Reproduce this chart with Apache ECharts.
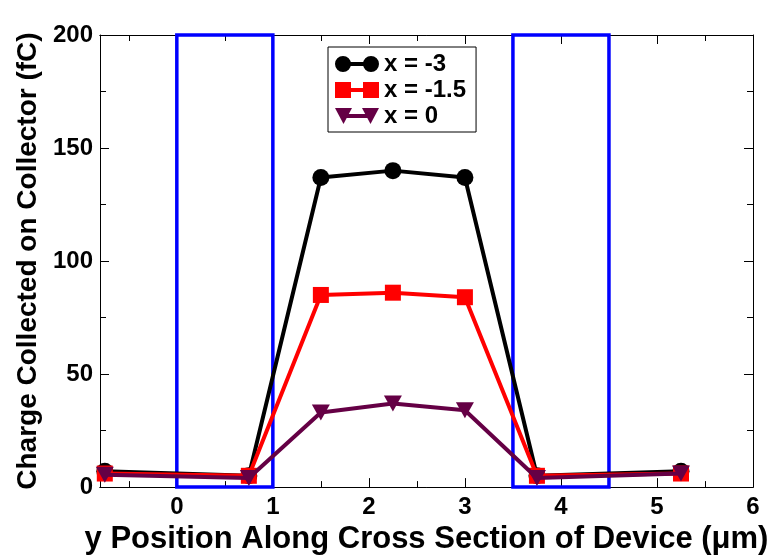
<!DOCTYPE html>
<html><head><meta charset="utf-8">
<script src="https://cdn.jsdelivr.net/npm/echarts@6/dist/echarts.min.js"></script>
<style>html,body{margin:0;padding:0;background:#fff}#c{width:777px;height:560px}</style>
</head><body><div id="c"></div>
<script>
const xPositions = [-0.75, 0.75, 1.5, 2.25, 3, 3.75, 5.25];
const seriesNames = ['x = -3', 'x = -1.5', 'x = 0'];
const chargeXm3 = [7, 5, 137, 140, 137, 5, 7];
const chargeXm15 = [6, 5, 85, 86, 84, 5, 6];
const chargeX0 = [5.5, 4, 33, 37, 34, 4, 6];
const collectorBoxes = [[0, 1], [3.5, 4.5]];
const xMajorTicks = [0, 1, 2, 3, 4, 5, 6];
const xMinorTicks = [-0.5, 0.5, 1.5, 2.5, 3.5, 4.5, 5.5];

const font = 'Liberation Sans, Arial, sans-serif';
const pair = v => xPositions.map((x, i) => [x, v[i]]);
const iconCircle = 'path://M0 8A8 8 0 1 1 16 8A8 8 0 1 1 0 8ZM28 8A8 8 0 1 1 44 8A8 8 0 1 1 28 8ZM14 6L30 6L30 10L14 10Z';
const iconSquare = 'path://M0 0H16V16H0ZM28 0H44V16H28ZM14 6H30V10H14Z';
const iconTri = 'path://M0 0H17L8.5 16ZM27 0H44L35.5 16ZM8 6H36V10H8Z';

const xBase = {type:'value', min:-0.8, max:6, splitLine:{show:false},
  axisLine:{show:true, onZero:false, lineStyle:{color:'#000', width:1}}};
const yBase = {type:'value', min:0, max:200, interval:50, splitLine:{show:false},
  axisLine:{show:true, onZero:false, lineStyle:{color:'#000', width:1}},
  axisTick:{show:true, inside:true, length:9, lineStyle:{color:'#000'}},
  minorTick:{show:true, splitNumber:2, length:6, lineStyle:{color:'#000'}}};

const option = {
  animation:false,
  backgroundColor:'#fff',
  grid:{left:100, right:24, top:35, bottom:68},
  legend:{
    orient:'vertical', left:328, top:47, padding:[5,10,4,7], itemGap:2,
    itemWidth:44, itemHeight:16, itemTextGap:8, borderColor:'#000', borderWidth:1,
    textStyle:{fontFamily:font, fontWeight:'bold', fontSize:24, color:'#000'},
    data:[
      {name:seriesNames[0], icon:iconCircle},
      {name:seriesNames[1], icon:iconSquare},
      {name:seriesNames[2], icon:iconTri}
    ]
  },
  xAxis:[
    Object.assign({}, xBase, {position:'bottom',
      name:'y Position Along Cross Section of Device (μm)', nameLocation:'middle', nameGap:33,
      nameTextStyle:{fontFamily:font, fontWeight:'bold', fontSize:31, color:'#000'},
      axisTick:{show:true, inside:true, length:9, customValues:xMajorTicks, lineStyle:{color:'#000'}},
      axisLabel:{show:true, customValues:xMajorTicks, margin:8, fontFamily:font, fontWeight:'bold', fontSize:24, color:'#000'}}),
    Object.assign({}, xBase, {position:'bottom',
      axisTick:{show:true, inside:true, length:6, customValues:xMinorTicks, lineStyle:{color:'#000'}},
      axisLabel:{show:false}}),
    Object.assign({}, xBase, {position:'top',
      axisTick:{show:true, inside:true, length:9, customValues:xMajorTicks, lineStyle:{color:'#000'}},
      axisLabel:{show:false}}),
    Object.assign({}, xBase, {position:'top',
      axisTick:{show:true, inside:true, length:6, customValues:xMinorTicks, lineStyle:{color:'#000'}},
      axisLabel:{show:false}})
  ],
  yAxis:[
    Object.assign({}, yBase, {position:'left',
      name:'Charge Collected on Collector (fC)', nameLocation:'middle', nameGap:58,
      nameTextStyle:{fontFamily:font, fontWeight:'bold', fontSize:28, color:'#000'},
      axisLabel:{show:true, margin:7, fontFamily:font, fontWeight:'bold', fontSize:24, color:'#000'}}),
    Object.assign({}, yBase, {position:'right', axisLabel:{show:false}})
  ],
  series:[
    {type:'line', name:'boxes', data:[], xAxisIndex:0, yAxisIndex:0, z:1,
      markArea:{silent:true, itemStyle:{color:'rgba(0,0,0,0)', borderColor:'#0000ff', borderWidth:3.5},
        data: collectorBoxes.map(b => [{xAxis:b[0], yAxis:0}, {xAxis:b[1], yAxis:200}])}},
    {type:'line', name:seriesNames[0], data:pair(chargeXm3), z:3, clip:false,
      symbol:'circle', symbolSize:17, itemStyle:{color:'#000'}, lineStyle:{color:'#000', width:4}},
    {type:'line', name:seriesNames[1], data:pair(chargeXm15), z:4, clip:false,
      symbol:'rect', symbolSize:16, itemStyle:{color:'#ff0000'}, lineStyle:{color:'#ff0000', width:4}},
    {type:'line', name:seriesNames[2], data:pair(chargeX0), z:5, clip:false,
      symbol:'triangle', symbolRotate:180, symbolSize:[18,16], itemStyle:{color:'#650045'}, lineStyle:{color:'#650045', width:4}}
  ]
};
const chart = echarts.init(document.getElementById('c'), null, {renderer:'canvas'});
chart.setOption(option);
</script></body></html>
